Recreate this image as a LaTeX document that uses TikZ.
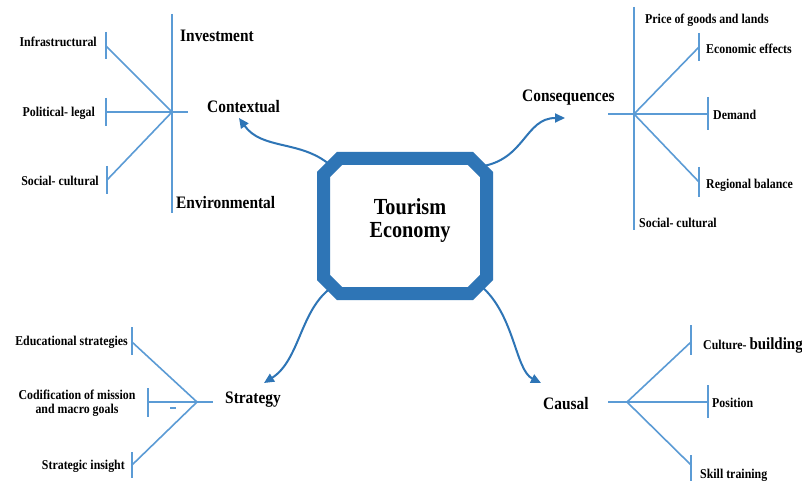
\documentclass[tikz,border=0pt]{standalone}
\usepackage{fontspec}
\setmainfont{Liberation Serif}[FakeStretch=0.88]
\usetikzlibrary{arrows.meta}
\definecolor{octblue}{HTML}{2E75B6}
\definecolor{brblue}{HTML}{5B9BD5}
\begin{document}
\begin{tikzpicture}[x=1pt,y=-1pt,
  small/.style={font=\bfseries\fontsize{13.5}{14}\selectfont, inner sep=0pt, text=black},
  cat/.style={font=\bfseries\fontsize{17.5}{20}\selectfont, inner sep=0pt, text=black},
  br/.style={draw=brblue, line width=1.6pt},
  oct/.style={draw=octblue, line width=13pt, line join=miter},
  arr/.style={draw=octblue, line width=2pt, -{Triangle[length=10pt,width=9pt]}}]
\fill[white] (0,0) rectangle (802,481);
\useasboundingbox (0,0) rectangle (802,481);

% central octagon
\node[rectangle, minimum width=176pt, minimum height=148pt, inner sep=0pt, outer sep=0pt] (hub) at (405,226) {};
\draw[oct] ([shift={(-65.5,-67.5)}]hub.center) -- ([shift={(65.5,-67.5)}]hub.center)
  -- ([shift={(81.5,-51.5)}]hub.center) -- ([shift={(81.5,51.5)}]hub.center)
  -- ([shift={(65.5,67.5)}]hub.center) -- ([shift={(-65.5,67.5)}]hub.center)
  -- ([shift={(-81.5,51.5)}]hub.center) -- ([shift={(-81.5,-51.5)}]hub.center) -- cycle;
\coordinate (hubNW) at ([shift={(-75.5,-61.5)}]hub.center);
\coordinate (hubNE) at ([shift={(75.5,-59.5)}]hub.center);
\coordinate (hubSW) at ([shift={(-73.5,61.5)}]hub.center);
\coordinate (hubSE) at ([shift={(75.5,59.5)}]hub.center);
\node[font=\bfseries\fontsize{23}{23}\selectfont, align=center, inner sep=0pt] (title) at (410,221) {Tourism\\Economy};

% ---------- Contextual cluster ----------
\coordinate (cL) at (172,112);
\coordinate (cLtop) at (172,14);
\coordinate (cLbot) at (172,213);
\coordinate (cLstub) at (188,112);
\coordinate (infT) at (106,46);
\coordinate (polT) at (106,112);
\coordinate (socT) at (107,180);
\draw[br] (cLtop) -- (cLbot);
\draw[br] (cL) -- (cLstub);
\draw[br] (cL) -- (infT);
\draw[br] (cL) -- (polT);
\draw[br] (cL) -- (socT);
\draw[br] (infT) ++(0,-14) -- ++(0,27);
\draw[br] (polT) ++(0,-14) -- ++(0,28);
\draw[br] (socT) ++(0,-14) -- ++(0,28);
\node[small, anchor=base east] (inf) at (97,47) {Infrastructural};
\node[small, anchor=base east] (pol) at (95,117) {Political- legal};
\node[small, anchor=base east] (soc) at (99,185) {Social- cultural};
\node[cat, anchor=base west] (inv) at (180,42) {Investment};
\node[cat, anchor=base west] (env) at (176,208) {Environmental};
\node[cat, anchor=base west] (ctx) at (207,113) {Contextual};

% ---------- Consequences cluster ----------
\coordinate (cR) at (634,114);
\coordinate (cRtop) at (634,7);
\coordinate (cRbot) at (634,230);
\coordinate (cRstub) at (608,114);
\coordinate (ecoT) at (699,47);
\coordinate (demT) at (708,114);
\coordinate (regT) at (699,182);
\draw[br] (cRtop) -- (cRbot);
\draw[br] (cR) -- (cRstub);
\draw[br] (cR) -- (ecoT);
\draw[br] (cR) -- (demT);
\draw[br] (cR) -- (regT);
\draw[br] (ecoT) ++(0,-14) -- ++(0,28);
\draw[br] (demT) ++(0,-17) -- ++(0,33);
\draw[br] (regT) ++(0,-15) -- ++(0,30);
\node[cat, anchor=base west] (con) at (522,102) {Consequences};
\node[small, anchor=base west] (pri) at (645,24) {Price of goods and lands};
\node[small, anchor=base west] (eco) at (706,54) {Economic effects};
\node[small, anchor=base west] (dem) at (713,120) {Demand};
\node[small, anchor=base west] (reg) at (706,188) {Regional balance};
\node[small, anchor=base west] (soc2) at (639,227) {Social- cultural};

% ---------- Strategy cluster ----------
\coordinate (sL) at (197,402);
\coordinate (sLstub) at (213,402);
\coordinate (eduT) at (132,342);
\coordinate (codT) at (148,402);
\coordinate (insT) at (132,465);
\draw[br] (sL) -- (sLstub);
\draw[br] (sL) -- (eduT);
\draw[br] (sL) -- (codT);
\draw[br] (sL) -- (insT);
\draw[br] (eduT) ++(0,-15) -- ++(0,28);
\draw[br] (codT) ++(0,-14) -- ++(0,29);
\draw[br] (insT) ++(0,-13) -- ++(0,26);
\coordinate (dashA) at (170,408);
\coordinate (dashB) at (176,408);
\draw[br] (dashA) -- (dashB);
\node[cat, anchor=base west] (str) at (225,403) {Strategy};
\node[small, anchor=base east] (edu) at (128,345) {Educational strategies};
\node[small, align=center, anchor=center] (cod) at (77,403) {Codification of mission\\and macro goals};
\node[small, anchor=base east] (ins) at (125,469) {Strategic insight};

% ---------- Causal cluster ----------
\coordinate (kR) at (627,402);
\coordinate (kRstub) at (608,402);
\coordinate (culT) at (691,342);
\coordinate (posT) at (708,402);
\coordinate (sklT) at (691,465);
\draw[br] (kR) -- (kRstub);
\draw[br] (kR) -- (culT);
\draw[br] (kR) -- (posT);
\draw[br] (kR) -- (sklT);
\draw[br] (culT) ++(0,-17) -- ++(0,30);
\draw[br] (posT) ++(0,-17) -- ++(0,33);
\draw[br] (sklT) ++(0,-10) -- ++(0,26);
\node[cat, anchor=base west] (cau) at (543,409) {Causal};
\node[small, anchor=base west] (cul) at (703,349) {Culture- {\fontsize{17}{18}\selectfont building}};
\node[small, anchor=base west] (pos) at (712,407) {Position};
\node[small, anchor=base west] (skl) at (700,478) {Skill training};

% ---------- arrows ----------
\coordinate (ctxtip) at (239,118);
\coordinate (contip) at (565,118);
\coordinate (strtip) at (264,383);
\coordinate (cautip) at (541,383);
\draw[arr] (hubNW) .. controls (300,140) and (262,150) .. (ctxtip);
\draw[arr] (hubNE) .. controls (525,160) and (525,118) .. (contip);
\draw[arr] (hubSW) .. controls (300,310) and (300,360) .. (strtip);
\draw[arr] (hubSE) .. controls (515,315) and (515,370) .. (cautip);
\end{tikzpicture}
\end{document}
